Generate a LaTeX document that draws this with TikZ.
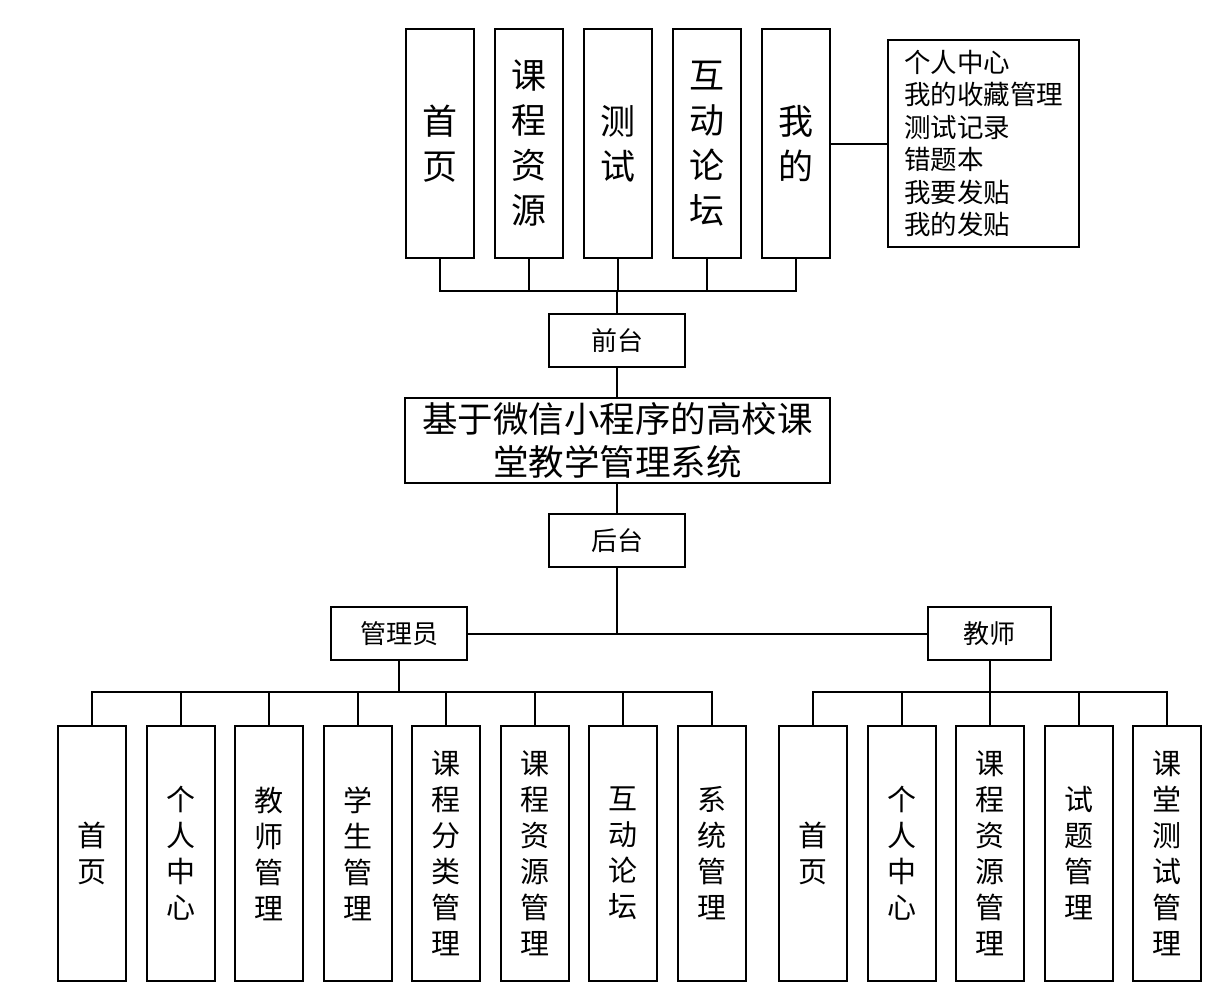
\documentclass[tikz,border=0pt]{standalone}
\usepackage{fontspec}
\newfontfamily\cjk{Noto Sans CJK SC}
\begin{document}
\begin{tikzpicture}[x=1pt,y=-1pt,line width=2pt,
  box/.style={draw,inner sep=0pt,align=center},
  topbox/.style={box,minimum width=68pt,minimum height=229pt,font=\cjk\fontsize{35}{45}\selectfont},
  midbox/.style={box,minimum width=136pt,minimum height=53pt,font=\cjk\fontsize{26}{32}\selectfont},
  leafbox/.style={box,minimum width=68pt,minimum height=255pt,font=\cjk\fontsize{29}{36}\selectfont},
  listbox/.style={draw,inner sep=0pt,align=left,minimum width=191pt,minimum height=207pt,font=\cjk\fontsize{26.5}{32.4}\selectfont},
  titlebox/.style={box,minimum width=425pt,minimum height=85pt,font=\cjk\fontsize{35.5}{43}\selectfont}]
\useasboundingbox (0,0) rectangle (1232,1001);
\fill[white] (0,0) rectangle (1232,1001);
% top row
\node[topbox] (t1) at (440,143.5) {首\\页};
\node[topbox] (t2) at (529,143.5) {课\\程\\资\\源};
\node[topbox] (t3) at (618,143.5) {测\\试};
\node[topbox] (t4) at (707,143.5) {互\\动\\论\\坛};
\node[topbox] (t5) at (796,143.5) {我\\的};
\node[listbox] (lst) at (983.5,143.5) {个人中心\\我的收藏管理\\测试记录\\错题本\\我要发贴\\我的发贴};
\draw (t5.east) -- (lst.west);
% centre column
\node[midbox] (qt) at (617,340.5) {前台};
\node[titlebox] (sys) at (617.5,440.5) {基于微信小程序的高校课\\堂教学管理系统};
\node[midbox] (ht) at (617,540.5) {后台};
\coordinate (tb) at (617,291);
\draw (t1.south) -- (t1.south |- tb) -- (t5.south |- tb) -- (t5.south);
\foreach \n in {t2,t3,t4} \draw (\n.south) -- (\n.south |- tb);
\draw (tb) -- (qt.north);
\draw (qt.south) -- (sys.north -| qt.south);
\draw (sys.south -| ht.north) -- (ht.north);
% roles
\node[midbox] (gly) at (399,633.5) {管理员};
\node[midbox,minimum width=123pt] (js) at (989.5,633.5) {教师};
\draw (gly.east) -- (js.west);
\draw (ht.south) -- (ht.south |- gly.east);
% admin leaves
\node[leafbox] (a1) at (92,853.5) {首\\页};
\node[leafbox] (a2) at (180.6,853.5) {个\\人\\中\\心};
\node[leafbox] (a3) at (269.1,853.5) {教\\师\\管\\理};
\node[leafbox] (a4) at (357.7,853.5) {学\\生\\管\\理};
\node[leafbox] (a5) at (446.3,853.5) {课\\程\\分\\类\\管\\理};
\node[leafbox] (a6) at (534.9,853.5) {课\\程\\资\\源\\管\\理};
\node[leafbox] (a7) at (623.4,853.5) {互\\动\\论\\坛};
\node[leafbox] (a8) at (712,853.5) {系\\统\\管\\理};
\coordinate (ab) at (399,692);
\draw (gly.south) -- (ab);
\draw (a1.north) -- (a1.north |- ab) -- (a8.north |- ab) -- (a8.north);
\foreach \n in {a2,a3,a4,a5,a6,a7} \draw (\n.north) -- (\n.north |- ab);
% teacher leaves
\node[leafbox] (b1) at (813,853.5) {首\\页};
\node[leafbox] (b2) at (901.5,853.5) {个\\人\\中\\心};
\node[leafbox] (b3) at (990,853.5) {课\\程\\资\\源\\管\\理};
\node[leafbox] (b4) at (1078.5,853.5) {试\\题\\管\\理};
\node[leafbox] (b5) at (1167,853.5) {课\\堂\\测\\试\\管\\理};
\coordinate (jb) at (990,692);
\draw (js.south) -- (js.south |- jb);
\draw (b1.north) -- (b1.north |- jb) -- (b5.north |- jb) -- (b5.north);
\foreach \n in {b2,b3,b4} \draw (\n.north) -- (\n.north |- jb);
\end{tikzpicture}
\end{document}
